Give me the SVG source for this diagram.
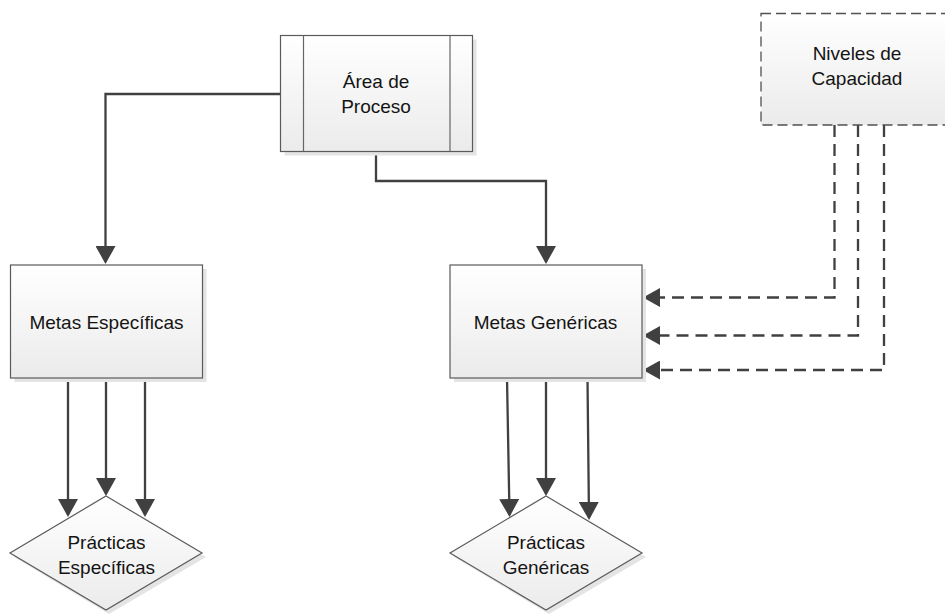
<svg xmlns="http://www.w3.org/2000/svg" width="945" height="614" viewBox="0 0 945 614">
  <defs>
    <linearGradient id="boxFill" x1="0" y1="0" x2="0" y2="1">
      <stop offset="0" stop-color="#ffffff"/>
      <stop offset="1" stop-color="#ebebeb"/>
    </linearGradient>
    <marker id="arrow" viewBox="0 0 18 20" refX="16" refY="10" markerWidth="18" markerHeight="20" markerUnits="userSpaceOnUse" orient="auto">
      <path d="M0,0 L18,10 L0,20 Z" fill="#404040" stroke="none"/>
    </marker>
    <marker id="arrowSmall" viewBox="0 0 17 19" refX="15" refY="9.5" markerWidth="17" markerHeight="19" markerUnits="userSpaceOnUse" orient="auto">
      <path d="M0,0 L17,9.5 L0,19 Z" fill="#404040" stroke="none"/>
    </marker>
  </defs>
  <style>
    .shadow { fill: #e4e4e4; stroke: none; }
    .box { fill: url(#boxFill); stroke: #5a5a5a; stroke-width: 1.2; }
    .dashbox { fill: url(#boxFill); stroke: #505050; stroke-width: 1.3; stroke-dasharray: 10 5; }
    .inner { fill: none; stroke: #666666; stroke-width: 1.2; }
    .label { font-family: "Liberation Sans", Arial, sans-serif; font-size: 19px; fill: #141414; text-anchor: middle; }
    .conn { fill: none; stroke: #404040; stroke-width: 2.3; }
    .solid { marker-end: url(#arrow); }
    .dashed { stroke-dasharray: 12 7; marker-end: url(#arrowSmall); }
  </style>

  <rect width="945" height="614" fill="#ffffff"/>

  <!-- connectors -->
  <g id="connectors">
    <path class="conn solid" d="M280,94 L105.5,94 L105.5,262"/>
    <path class="conn solid" d="M376,151 L376,181 L546,181 L546,262"/>
    <path class="conn solid" d="M68,378 L68,515"/>
    <path class="conn solid" d="M106,378 L106,494"/>
    <path class="conn solid" d="M145,378 L145,515"/>
    <path class="conn solid" d="M507,378 L509.5,515"/>
    <path class="conn solid" d="M546,378 L546,494"/>
    <path class="conn solid" d="M584.5,379 L587.5,379 L589,518"/>
    <path class="conn dashed" d="M834.5,125 L834.5,297.5 L645,297.5"/>
    <path class="conn dashed" d="M858,125 L858,335.5 L645,335.5"/>
    <path class="conn dashed" d="M884,125 L884,370 L645,370"/>
  </g>

  <!-- process area: predefined-process box -->
  <g id="area-proceso">
    <rect class="shadow" x="284.5" y="39.5" width="192" height="116"/>
    <rect class="box" x="280.5" y="35.5" width="192" height="116"/>
    <line class="inner" x1="303.5" y1="35.5" x2="303.5" y2="151.5"/>
    <line class="inner" x1="450" y1="35.5" x2="450" y2="151.5"/>
    <text class="label" x="376" y="88">Área de</text>
    <text class="label" x="376" y="113">Proceso</text>
  </g>

  <!-- capability levels -->
  <g id="niveles-capacidad">
    <rect class="dashbox" x="761" y="13.5" width="190" height="111.5"/>
    <text class="label" x="857" y="60">Niveles de</text>
    <text class="label" x="857" y="85">Capacidad</text>
  </g>

  <!-- specific goals -->
  <g id="metas-especificas">
    <rect class="shadow" x="14.5" y="269" width="192" height="113"/>
    <rect class="box" x="10.5" y="265" width="192" height="113"/>
    <text class="label" x="106.5" y="329">Metas Específicas</text>
  </g>

  <!-- generic goals -->
  <g id="metas-genericas">
    <rect class="shadow" x="454" y="269" width="192" height="113"/>
    <rect class="box" x="450" y="265" width="192" height="113"/>
    <text class="label" x="545.5" y="329">Metas Genéricas</text>
  </g>

  <!-- specific practices -->
  <g id="practicas-especificas">
    <path class="shadow" d="M109,500 L206,557 L109,614 L14,557 Z"/>
    <path class="box" d="M106,496 L202,553 L106,610 L10,553 Z"/>
    <text class="label" x="106.5" y="548.5">Prácticas</text>
    <text class="label" x="106.5" y="573.5">Específicas</text>
  </g>

  <!-- generic practices -->
  <g id="practicas-genericas">
    <path class="shadow" d="M549,500 L646,557 L549,614 L454,557 Z"/>
    <path class="box" d="M546,496 L642,553 L546,610 L450,553 Z"/>
    <text class="label" x="546" y="549">Prácticas</text>
    <text class="label" x="546" y="574">Genéricas</text>
  </g>
</svg>
